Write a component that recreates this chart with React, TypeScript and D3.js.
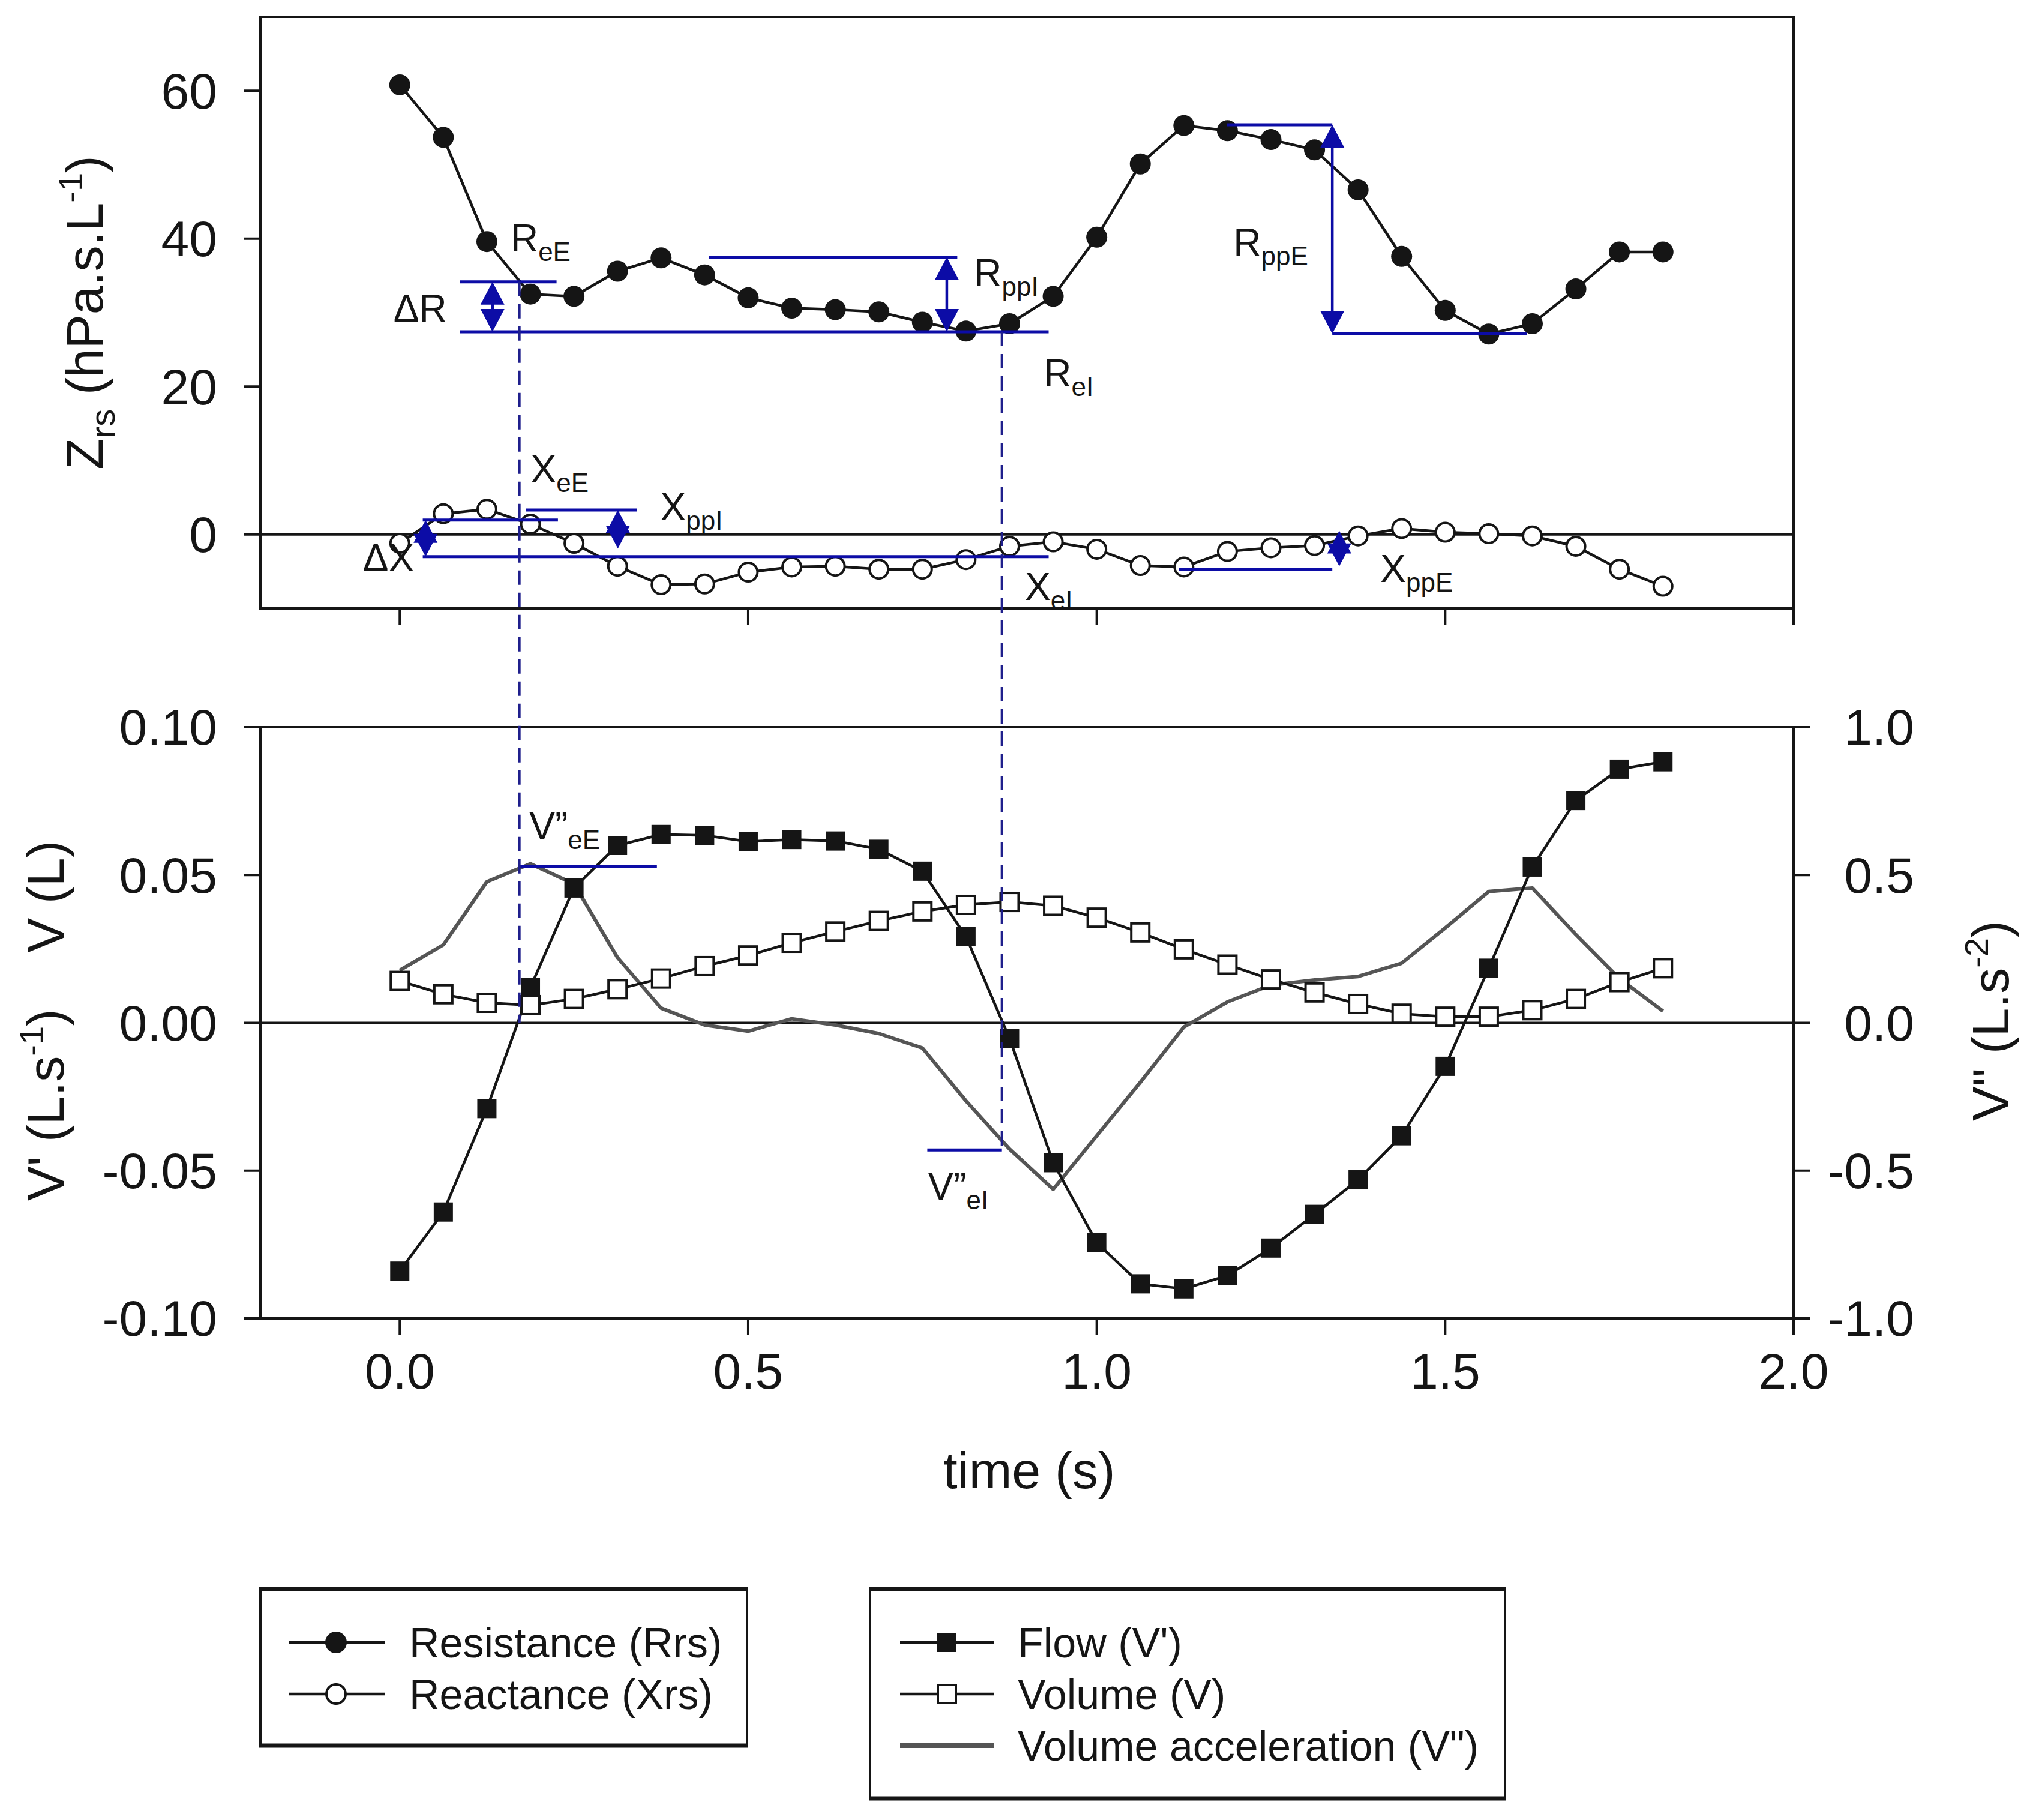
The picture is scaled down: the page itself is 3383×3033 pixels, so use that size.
import * as d3 from 'd3';

// sample times (s), 16 Hz
const time = [
  0, 0.0625, 0.125, 0.1875, 0.25, 0.3125, 0.375, 0.4375, 0.5, 0.5625,
  0.625, 0.6875, 0.75, 0.8125, 0.875, 0.9375, 1.0, 1.0625, 1.125, 1.1875,
  1.25, 1.3125, 1.375, 1.4375, 1.5, 1.5625, 1.625, 1.6875, 1.75, 1.8125,
];

// Zrs (hPa.s.L-1)
const resistance = [
  60.8, 53.7, 39.6, 32.5, 32.2, 35.6, 37.4, 35.1, 32.0, 30.6,
  30.4, 30.1, 28.7, 27.5, 28.5, 32.2, 40.2, 50.1, 55.3, 54.6,
  53.4, 52.0, 46.6, 37.6, 30.3, 27.1, 28.5, 33.2, 38.2, 38.2,
];
const reactance = [
  -1.2, 2.8, 3.4, 1.4, -1.2, -4.3, -6.8, -6.7, -5.1, -4.4,
  -4.3, -4.7, -4.7, -3.4, -1.6, -1.0, -2.0, -4.2, -4.4, -2.3,
  -1.8, -1.5, -0.2, 0.8, 0.3, 0.1, -0.2, -1.6, -4.7, -7.0,
];

// bottom panel
const flow = [
  -0.084, -0.064, -0.029, 0.012, 0.0456, 0.060, 0.0637, 0.0634, 0.0613, 0.062,
  0.0615, 0.0587, 0.0513, 0.0292, -0.0053, -0.0473, -0.0744, -0.0883, -0.090, -0.0855,
  -0.0762, -0.0648, -0.0531, -0.0382, -0.0147, 0.0185, 0.0527, 0.0752, 0.0858, 0.0883,
];
const volume = [
  0.0142, 0.0097, 0.0068, 0.0060, 0.0081, 0.0114, 0.0150, 0.0192, 0.0228, 0.0271,
  0.0309, 0.0345, 0.0377, 0.0399, 0.0409, 0.0396, 0.0356, 0.0306, 0.0249, 0.0197,
  0.0147, 0.0103, 0.0064, 0.0031, 0.0021, 0.0021, 0.0043, 0.0081, 0.0138, 0.0185,
];
const accel = [
  0.178, 0.264, 0.477, 0.538, 0.470, 0.221, 0.050, -0.007, -0.028, 0.014,
  -0.007, -0.036, -0.085, -0.264, -0.427, -0.563, -0.382, -0.201, -0.014, 0.071,
  0.128, 0.145, 0.157, 0.202, 0.321, 0.444, 0.456, 0.299, 0.150, 0.040,
];

// tick values
const xTicks = [0, 0.5, 1.0, 1.5, 2.0];
const zTicks = [0, 20, 40, 60];
const fTicks = [-0.1, -0.05, 0, 0.05, 0.1];
const aTicks = [-1, -0.5, 0, 0.5, 1];

// annotations: horizontal reference lines [t0, t1, value]
const rLines = [[0.086, 0.225, 34.15], [0.086, 0.931, 27.4], [0.444, 0.80, 37.5], [1.187, 1.338, 55.4], [1.338, 1.617, 27.15]];
const xLines = [[0.033, 0.227, 1.94], [0.033, 0.931, -3.0], [0.181, 0.340, 3.3], [1.118, 1.338, -4.7]];
const aLines = [[0.1717, 0.369, 0.53], [0.757, 0.864, -0.43]];
// double arrows [t, v1, v2]
const zArrows = [[0.133, 34.15, 27.4], [0.785, 37.5, 27.4], [1.338, 55.4, 27.15], [0.037, 1.94, -3.0], [0.313, 3.3, -1.9], [1.348, 0.5, -4.3]];
// labels [t, v, main, sub]
const zLabels: [number, number, string, string][] = [
  [0.159, 38.3, 'R', 'eE'], [-0.009, 28.8, 'ΔR', ''], [0.824, 33.6, 'R', 'ppI'], [0.924, 20.0, 'R', 'eI'],
  [1.196, 37.7, 'R', 'ppE'], [0.188, 7.0, 'X', 'eE'], [0.374, 1.9, 'X', 'ppI'], [-0.053, -5.0, 'ΔX', ''],
  [0.897, -8.9, 'X', 'eI'], [1.407, -6.4, 'X', 'ppE'],
];
const aLabels: [number, number, string, string][] = [[0.186, 0.62, 'V”', 'eE'], [0.758, -0.598, 'V”', 'eI']];

const legend1 = ['Resistance (Rrs)', 'Reactance (Xrs)'];
const legend2 = ['Flow (V\')', 'Volume (V)', 'Volume acceleration (V")'];

const W = 3383;
const H = 3033;
const font = 'Liberation Sans, Arial, sans-serif';
const BLUE = '#0c0ca6';
const DASH = '#1f1f8c';
const INK = '#151515';

const x = d3.scaleLinear().domain([-0.2, 2.0]).range([434, 2989]);
const yZ = d3.scaleLinear().domain([-10, 70]).range([1014, 28]);
const yF = d3.scaleLinear().domain([-0.1, 0.1]).range([2197, 1212]);
const yA = d3.scaleLinear().domain([-1, 1]).range([2197, 1212]);

const fmt = (f: string) => (v: number) => d3.format(f)(v).replace('−', '-');

const DoubleArrow = ({ px, y1, y2 }: { px: number; y1: number; y2: number }) => {
  const hl = 38, hw = 20;
  const top = Math.min(y1, y2), bot = Math.max(y1, y2);
  return (
    <g fill={BLUE}>
      <line x1={px} x2={px} y1={top + 10} y2={bot - 10} stroke={BLUE} strokeWidth={4.5} />
      <polygon points={`${px},${top} ${px - hw},${top + hl} ${px + hw},${top + hl}`} />
      <polygon points={`${px},${bot} ${px - hw},${bot - hl} ${px + hw},${bot - hl}`} />
    </g>
  );
};

const Label = ({ px, py, main, sub }: { px: number; py: number; main: string; sub: string }) => (
  <text x={px} y={py} fontSize={64} fill={INK}>
    {main}
    {sub && <tspan fontSize={44} dy={16}>{sub}</tspan>}
  </text>
);

const App = () => {
  const line = (ys: d3.ScaleLinear<number, number>, arr: number[]) =>
    d3.line<number>().x((_, i) => x(time[i])).y(d => ys(d))(arr) || '';

  const top = { t: 28, b: 1014 };
  const bot = { t: 1212, b: 2197 };

  return (
    <svg width={W} height={H} style={{ position: 'absolute', left: 0, top: 0, background: '#fff' }} fontFamily={font}>
      <rect width={W} height={H} fill="#fff" />

      {/* ---------- top panel ---------- */}
      <line x1={x(-0.2)} x2={x(2.0)} y1={yZ(0)} y2={yZ(0)} stroke={INK} strokeWidth={4} />
      {zTicks.map(v => (
        <g key={'zt' + v}>
          <line x1={406} x2={434} y1={yZ(v)} y2={yZ(v)} stroke={INK} strokeWidth={4} />
          <text x={362} y={yZ(v)} dy="0.35em" textAnchor="end" fontSize={84} fill={INK}>{v}</text>
        </g>
      ))}
      {xTicks.map(v => (
        <line key={'xt1' + v} x1={x(v)} x2={x(v)} y1={top.b} y2={top.b + 28} stroke={INK} strokeWidth={4} />
      ))}
      <text transform="translate(171,521) rotate(-90)" textAnchor="middle" fontSize={86} fill={INK}>
        Z<tspan fontSize={58} dy={20}>rs</tspan>
        <tspan dy={-20}> (hPa.s.L</tspan>
        <tspan fontSize={56} dy={-34}>-1</tspan>
        <tspan dy={34}>)</tspan>
      </text>

      <path d={line(yZ, resistance)} fill="none" stroke={INK} strokeWidth={4.5} />
      <path d={line(yZ, reactance)} fill="none" stroke={INK} strokeWidth={4.5} />
      {resistance.map((v, i) => (
        <circle key={'r' + i} cx={x(time[i])} cy={yZ(v)} r={17.5} fill={INK} />
      ))}
      {reactance.map((v, i) => (
        <circle key={'x' + i} cx={x(time[i])} cy={yZ(v)} r={15.5} fill="#fff" stroke={INK} strokeWidth={4} />
      ))}

      {rLines.concat(xLines).map(([t0, t1, v], i) => (
        <line key={'bl' + i} x1={x(t0)} x2={x(t1)} y1={yZ(v)} y2={yZ(v)} stroke={BLUE} strokeWidth={5} />
      ))}
      {zArrows.map(([t, v1, v2], i) => (
        <DoubleArrow key={'ar' + i} px={x(t)} y1={yZ(v1)} y2={yZ(v2)} />
      ))}
      {zLabels.map(([t, v, m, s], i) => (
        <Label key={'zl' + i} px={x(t)} py={yZ(v)} main={m} sub={s} />
      ))}

      <rect x={434} y={top.t} width={2989 - 434} height={top.b - top.t} fill="none" stroke={INK} strokeWidth={4} />

      {/* ---------- bottom panel ---------- */}
      <line x1={x(-0.2)} x2={x(2.0)} y1={yF(0)} y2={yF(0)} stroke={INK} strokeWidth={4} />
      {fTicks.map(v => (
        <g key={'ft' + v}>
          <line x1={406} x2={434} y1={yF(v)} y2={yF(v)} stroke={INK} strokeWidth={4} />
          <text x={362} y={yF(v)} dy="0.35em" textAnchor="end" fontSize={84} fill={INK}>{fmt('.2f')(v)}</text>
        </g>
      ))}
      {aTicks.map(v => (
        <g key={'at' + v}>
          <line x1={2989} x2={3017} y1={yA(v)} y2={yA(v)} stroke={INK} strokeWidth={4} />
          <text x={3190} y={yA(v)} dy="0.35em" textAnchor="end" fontSize={84} fill={INK}>{fmt('.1f')(v)}</text>
        </g>
      ))}
      {xTicks.map(v => (
        <g key={'xt2' + v}>
          <line x1={x(v)} x2={x(v)} y1={bot.b} y2={bot.b + 28} stroke={INK} strokeWidth={4} />
          <text x={x(v)} y={2285} dy="0.35em" textAnchor="middle" fontSize={84} fill={INK}>{fmt('.1f')(v)}</text>
        </g>
      ))}
      <text x={1715} y={2480} textAnchor="middle" fontSize={86} fill={INK}>time (s)</text>
      <text transform="translate(106,1494) rotate(-90)" textAnchor="middle" fontSize={86} fill={INK}>V (L)</text>
      <text transform="translate(106,1841) rotate(-90)" textAnchor="middle" fontSize={86} fill={INK}>
        V' (L.s<tspan fontSize={56} dy={-34}>-1</tspan>
        <tspan dy={34}>)</tspan>
      </text>
      <text transform="translate(3347,1701) rotate(-90)" textAnchor="middle" fontSize={86} fill={INK}>
        V" (L.s<tspan fontSize={56} dy={-34}>-2</tspan>
        <tspan dy={34}>)</tspan>
      </text>

      <path d={line(yA, accel)} fill="none" stroke="#555" strokeWidth={6} strokeLinejoin="round" />
      <path d={line(yF, volume)} fill="none" stroke={INK} strokeWidth={4.5} />
      <path d={line(yF, flow)} fill="none" stroke={INK} strokeWidth={4.5} />
      {volume.map((v, i) => (
        <rect key={'v' + i} x={x(time[i]) - 15} y={yF(v) - 15} width={30} height={30} fill="#fff" stroke={INK} strokeWidth={4} />
      ))}
      {flow.map((v, i) => (
        <rect key={'f' + i} x={x(time[i]) - 16} y={yF(v) - 16} width={32} height={32} fill={INK} />
      ))}

      {aLines.map(([t0, t1, v], i) => (
        <line key={'al' + i} x1={x(t0)} x2={x(t1)} y1={yA(v)} y2={yA(v)} stroke={BLUE} strokeWidth={5} />
      ))}
      {aLabels.map(([t, v, m, s], i) => (
        <Label key={'alb' + i} px={x(t)} py={yA(v)} main={m} sub={s} />
      ))}

      <rect x={434} y={bot.t} width={2989 - 434} height={bot.b - bot.t} fill="none" stroke={INK} strokeWidth={4} />

      {/* dashed guides linking both panels */}
      <line x1={x(0.1717)} x2={x(0.1717)} y1={yZ(34.15)} y2={yF(0)} stroke={DASH} strokeWidth={4} strokeDasharray="24 13" />
      <line x1={x(0.864)} x2={x(0.864)} y1={yZ(27.4)} y2={yA(-0.43)} stroke={DASH} strokeWidth={4} strokeDasharray="24 13" />

      {/* ---------- legends ---------- */}
      <g>
        <rect x={434} y={2648} width={811} height={261} fill="#fff" stroke={INK} strokeWidth={4} />
        <line x1={432} x2={1247} y1={2648} y2={2648} stroke={INK} strokeWidth={7} />
        <line x1={432} x2={1247} y1={2909} y2={2909} stroke={INK} strokeWidth={7} />
        {legend1.map((s, i) => {
          const cy = 2737 + i * 86;
          return (
            <g key={'l1' + i}>
              <line x1={482} x2={642} y1={cy} y2={cy} stroke={INK} strokeWidth={4.5} />
              {i === 0
                ? <circle cx={560} cy={cy} r={18} fill={INK} />
                : <circle cx={560} cy={cy} r={16} fill="#fff" stroke={INK} strokeWidth={4} />}
              <text x={682} y={cy} dy="0.36em" fontSize={70} fill={INK}>{s}</text>
            </g>
          );
        })}
      </g>
      <g>
        <rect x={1450} y={2648} width={1058} height={349} fill="#fff" stroke={INK} strokeWidth={4} />
        <line x1={1448} x2={2510} y1={2648} y2={2648} stroke={INK} strokeWidth={7} />
        <line x1={1448} x2={2510} y1={2997} y2={2997} stroke={INK} strokeWidth={7} />
        {legend2.map((s, i) => {
          const cy = 2737 + i * 86;
          return (
            <g key={'l2' + i}>
              {i === 2
                ? <line x1={1500} x2={1657} y1={cy} y2={cy} stroke="#555" strokeWidth={8} />
                : <line x1={1500} x2={1657} y1={cy} y2={cy} stroke={INK} strokeWidth={4.5} />}
              {i === 0 && <rect x={1562} y={cy - 16} width={32} height={32} fill={INK} />}
              {i === 1 && <rect x={1563} y={cy - 15} width={30} height={30} fill="#fff" stroke={INK} strokeWidth={4} />}
              <text x={1696} y={cy} dy="0.36em" fontSize={70} fill={INK}>{s}</text>
            </g>
          );
        })}
      </g>
    </svg>
  );
};

export default App;
